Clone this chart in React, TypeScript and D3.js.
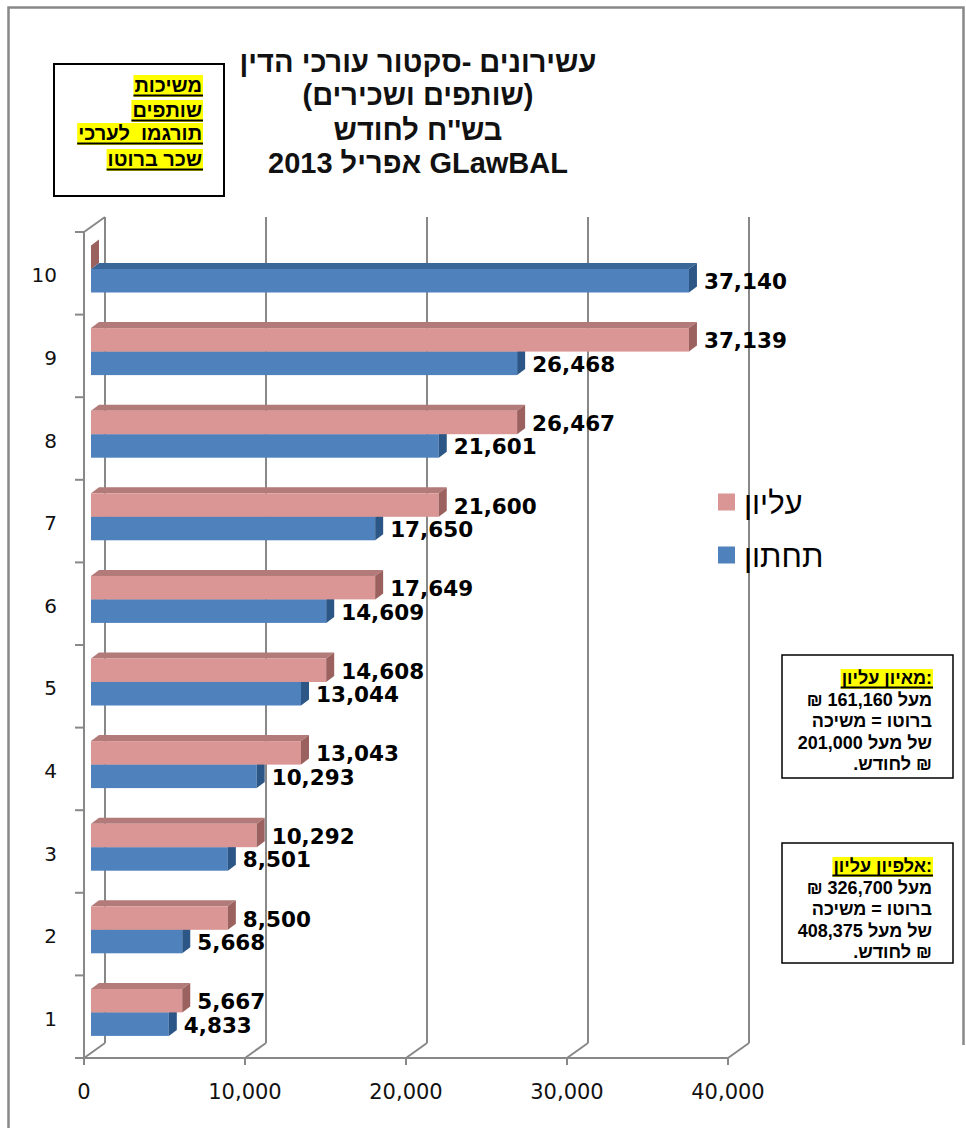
import React, { useEffect, useRef } from "react";
import * as d3 from "d3";

const categories = ["1", "2", "3", "4", "5", "6", "7", "8", "9", "10"];
const upperValues = [5667, 8500, 10292, 13043, 14608, 17649, 21600, 26467, 37139, 0];
const lowerValues = [4833, 5668, 8501, 10293, 13044, 14609, 17650, 21601, 26468, 37140];
const xTicks = [0, 10000, 20000, 30000, 40000];
const seriesNames = ["עליון", "תחתון"];
const titleLines = ["עשירונים -סקטור עורכי הדין", "(שותפים ושכירים)", "בש''ח לחודש", "GLawBAL אפריל 2013"];
const noteLines = ["משיכות", "שותפים", "תורגמו  לערכי", "שכר ברוטו"];
const box1Lines = ["מאיון עליון:", "מעל 161,160 ₪", "ברוטו = משיכה", "של מעל 201,000", "₪ לחודש."];
const box2Lines = ["אלפיון עליון:", "מעל 326,700 ₪", "ברוטו = משיכה", "של מעל 408,375", "₪ לחודש."];

const W = 966, H = 1128;
const GRID = "#888888";
const HEB = "'Liberation Sans', Arial, 'DejaVu Sans', sans-serif";
const NUM = "'DejaVu Sans', Verdana, sans-serif";

export default function App() {
  const ref = useRef<SVGSVGElement>(null);
  useEffect(() => {
    const svg = d3.select(ref.current);
    svg.selectAll("*").remove();

    const x = d3.scaleLinear().domain([0, 40000]).range([84, 728]);
    const y = d3.scaleBand().domain([...categories].reverse()).range([232, 1058]).padding(0);
    const DX = 21, DY = -15; // wall depth
    const BX = 7, bdx = 8, bdy = -6; // bar depth
    const floorY = 1058;

    // outer frame
    svg.append("path").attr("d", `M8.5,${H} V7.5 H963.5 V1045`).attr("fill", "none").attr("stroke", GRID).attr("stroke-width", 2.5);

    // back wall gridlines
    xTicks.forEach((t) => {
      const xf = x(t);
      svg.append("line").attr("x1", xf + DX).attr("x2", xf + DX).attr("y1", 232 + DY).attr("y2", floorY + DY)
        .attr("stroke", GRID).attr("stroke-width", 2);
      svg.append("line").attr("x1", xf).attr("x2", xf + DX).attr("y1", floorY).attr("y2", floorY + DY)
        .attr("stroke", GRID).attr("stroke-width", 2);
      svg.append("line").attr("x1", xf).attr("x2", xf).attr("y1", floorY).attr("y2", floorY + 7)
        .attr("stroke", GRID).attr("stroke-width", 2);
      svg.append("text").attr("x", xf).attr("y", 1099).attr("text-anchor", "middle")
        .attr("font-family", NUM).attr("font-size", 21).attr("fill", "#111")
        .text(d3.format(",")(t));
    });
    // top-left diagonal
    svg.append("line").attr("x1", x(0)).attr("x2", x(0) + DX).attr("y1", 232).attr("y2", 232 + DY)
      .attr("stroke", GRID).attr("stroke-width", 2);
    // front vertical axis
    svg.append("line").attr("x1", x(0)).attr("x2", x(0)).attr("y1", 232).attr("y2", floorY)
      .attr("stroke", GRID).attr("stroke-width", 2);
    // front horizontal axis
    svg.append("line").attr("x1", 75).attr("x2", x(40000)).attr("y1", floorY).attr("y2", floorY)
      .attr("stroke", GRID).attr("stroke-width", 2);
    // category ticks
    const bounds = [...categories.map((c) => y(c) as number), floorY];
    bounds.forEach((b) => {
      svg.append("line").attr("x1", 75).attr("x2", x(0)).attr("y1", b).attr("y2", b)
        .attr("stroke", GRID).attr("stroke-width", 2);
    });
    categories.forEach((c) => {
      svg.append("text").attr("x", 57).attr("y", (y(c) as number) + y.bandwidth() / 2 + 2)
        .attr("text-anchor", "end").attr("dominant-baseline", "central")
        .attr("font-family", NUM).attr("font-size", 20).attr("fill", "#111").text(c);
    });

    // bars
    const bh = 23.5;
    const colors = [
      { front: "#D99694", top: "#B27a78", side: "#9a615f" },
      { front: "#4F81BD", top: "#3A6698", side: "#2C5686" },
    ];
    const drawBar = (x0: number, x1: number, yt: number, col: any) => {
      const g = svg.append("g");
      if (x1 > x0) {
        g.append("path").attr("d", `M${x0},${yt} L${x0 + bdx},${yt + bdy} L${x1 + bdx},${yt + bdy} L${x1},${yt} Z`).attr("fill", col.top);
        g.append("rect").attr("x", x0).attr("y", yt).attr("width", x1 - x0).attr("height", bh).attr("fill", col.front);
      }
      g.append("path").attr("d", `M${x1},${yt} L${x1 + bdx},${yt + bdy} L${x1 + bdx},${yt + bh + bdy} L${x1},${yt + bh} Z`).attr("fill", col.side);
    };
    const labels: any[] = [];
    categories.forEach((c, i) => {
      const bt = (y(c) as number) + 13.5;
      const x0 = x(0) + BX;
      const lEnd = x(lowerValues[i]) + BX;
      drawBar(x0, lEnd, bt + bh, colors[1]);
      const uEnd = x(upperValues[i]) + BX;
      drawBar(x0, uEnd, bt, colors[0]);
      if (upperValues[i] > 0) labels.push({ x: uEnd + 15, y: bt + bh / 2, v: upperValues[i] });
      if (lowerValues[i] > 0) labels.push({ x: lEnd + 15, y: bt + bh * 1.5, v: lowerValues[i] });
    });
    labels.forEach((l) => {
      svg.append("text").attr("x", l.x).attr("y", l.y + 1).attr("dominant-baseline", "central")
        .attr("font-family", NUM).attr("font-weight", "bold").attr("font-size", 21.5).attr("fill", "#000")
        .text(d3.format(",")(l.v));
    });

    // legend
    [0, 1].forEach((i) => {
      const cy = 502 + i * 53;
      svg.append("rect").attr("x", 718).attr("y", cy - 8.5).attr("width", 17).attr("height", 17).attr("fill", colors[i].front);
      svg.append("text").attr("x", 744).attr("y", cy + 1).attr("dominant-baseline", "central")
        .attr("font-family", HEB).attr("font-size", 31).attr("fill", "#000").text(seriesNames[i]);
    });

    // title
    titleLines.forEach((t, i) => {
      svg.append("text").attr("x", 418).attr("y", [72, 105, 140, 173][i])
        .attr("text-anchor", "middle").attr("direction", "rtl")
        .attr("font-family", HEB).attr("font-weight", "bold").attr("font-size", 29).attr("fill", "#111").text(t);
    });

    // note box top-left
    svg.append("rect").attr("x", 54).attr("y", 64).attr("width", 170).attr("height", 132)
      .attr("fill", "#fff").attr("stroke", "#000").attr("stroke-width", 2);
    const drawHighlighted = (txt: string, xr: number, yb: number, size: number, dir: string, hl: boolean) => {
      const t = svg.append("text").attr("x", xr).attr("y", yb)
        .attr("text-anchor", dir === "rtl" ? "start" : "end").attr("direction", dir)
        .style("white-space", "pre")
        .attr("font-family", HEB).attr("font-weight", "bold").attr("font-size", size).attr("fill", "#000")
        .text(txt);
      if (hl) {
        const bb = (t.node() as SVGTextElement).getBBox();
        svg.insert("rect", () => t.node() as any).attr("x", bb.x - 1).attr("y", bb.y + 1).attr("width", bb.width + 2).attr("height", bb.height)
          .attr("fill", "#FFFF00");
        svg.append("line").attr("x1", bb.x - 1).attr("x2", bb.x + bb.width + 1).attr("y1", yb + 3.5).attr("y2", yb + 3.5)
          .attr("stroke", "#000").attr("stroke-width", 2);
      }
    };
    noteLines.forEach((t, i) => {
      drawHighlighted(t, 202, [92, 117, 140, 166][i], 20, "rtl", true);
    });

    // right boxes
    const box = (lines: string[], top: number, h: number) => {
      svg.append("rect").attr("x", 782).attr("y", top).attr("width", 171).attr("height", h)
        .attr("fill", "#fff").attr("stroke", "#000").attr("stroke-width", 1.5);
      lines.forEach((t, i) => {
        drawHighlighted(t, 932, top + 29 + i * 21.5, 18, i === 0 ? "ltr" : "rtl", i === 0);
      });
    };
    box(box1Lines, 655, 123);
    box(box2Lines, 843, 120);
  }, []);
  return (
    <svg ref={ref} width={W} height={H} style={{ position: "absolute", left: 0, top: 0, background: "#fff" }} />
  );
}
